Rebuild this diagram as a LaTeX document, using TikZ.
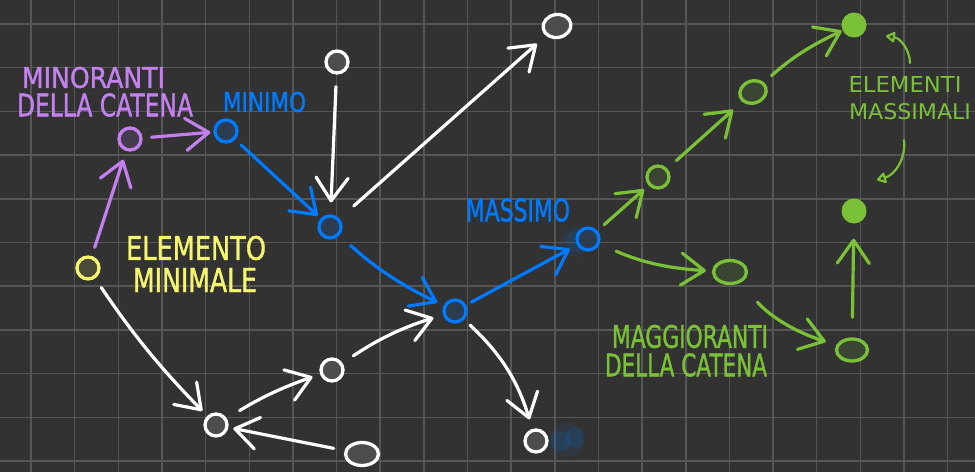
\documentclass[tikz,border=0pt]{standalone}
\usepackage{fontspec}
\setmainfont{DejaVu Sans}
\newfontfamily\hand[FakeBold=1.4]{DejaVu Sans}
\usetikzlibrary{arrows.meta,shapes.geometric}
\definecolor{bg}{RGB}{50,50,50}
\definecolor{gridc}{RGB}{86,86,86}
\definecolor{purp}{RGB}{197,128,240}
\definecolor{bluec}{RGB}{0,122,255}
\definecolor{yel}{RGB}{245,245,110}
\definecolor{grn}{RGB}{122,193,56}
\newcommand{\fitt}[3]{\resizebox{#1pt}{#2pt}{#3}}
\begin{document}
\begin{tikzpicture}[x=1pt,y=-1pt,
  dot/.style={circle,draw=#1,fill=#1!13!bg,line width=3.3pt,minimum size=22pt,inner sep=0pt},
  ell/.style={ellipse,draw=#1,fill=#1!13!bg,line width=3.3pt,inner sep=0pt},
  fdot/.style={circle,fill=#1,minimum size=25pt,inner sep=0pt},
  lbl/.style={inner sep=0pt,text=#1},
  arr/.style={draw=#1,line width=3.2pt,line cap=round,-{Straight Barb[length=23pt,width=32pt,round]}},
  larr/.style={draw=#1,line width=2.2pt,line cap=round,-{Triangle[open,length=10pt,width=12pt,round]}}]
\useasboundingbox (0,0) rectangle (975,472);
\fill[bg] (0,0) rectangle (975,472);
\foreach \i in {0,...,21} \draw[gridc,line width=1.5pt] ({31+43.65*\i},0) -- ({31+43.65*\i},472);
\foreach \j in {0,...,10} \draw[gridc,line width=1.5pt] (0,{24+43.7*\j}) -- (975,{24+43.7*\j});
% smudges
\fill[bluec,opacity=0.08] (575,242) circle (15pt);
\fill[bluec,opacity=0.12] (577,241) circle (11pt);
\fill[bluec,opacity=0.08] (567,440) circle (17pt);
\fill[bluec,opacity=0.12] (561,441) circle (10pt);
\fill[bluec,opacity=0.12] (575,438) circle (10pt);
% nodes
\node[dot=purp] (pur) at (130,139) {};
\node[dot=bluec] (mini) at (226,131) {};
\node[dot=bluec] (bm) at (330,227) {};
\node[dot=bluec] (bc) at (455,311) {};
\node[dot=bluec] (mass) at (588,239) {};
\node[dot=white] (wt) at (337,62) {};
\node[ell=white,minimum width=28pt,minimum height=23pt,rotate=10] (wtr) at (557,26) {};
\node[dot=yel] (yl) at (88,268) {};
\node[dot=white] (wbl) at (216,425) {};
\node[dot=white] (wm) at (332,370) {};
\node[ell=white,minimum width=33pt,minimum height=23pt] (wbe) at (362,454) {};
\node[dot=white] (wbr) at (536,441) {};
\node[dot=grn] (g1) at (658,177) {};
\node[ell=grn,minimum width=27pt,minimum height=22pt,rotate=20] (g2) at (753,92) {};
\node[fdot=grn] (gt) at (854,25) {};
\node[fdot=grn] (gb) at (854,211) {};
\node[ell=grn,minimum width=33pt,minimum height=23pt] (g3) at (730,272) {};
\node[ell=grn,minimum width=31pt,minimum height=22pt] (g4) at (852,350) {};
% labels
\node[lbl=purp] (lmin1) at (93.5,77.5) {\fitt{143}{21}{\hand MINORANTI}};
\node[lbl=purp] (lmin2) at (105,105) {\fitt{176}{23}{\hand DELLA CATENA}};
\node[lbl=bluec] (lminimo) at (264.5,102) {\fitt{83}{20}{\hand MINIMO}};
\node[lbl=yel] (lel1) at (196,248) {\fitt{140}{24}{\hand ELEMENTO}};
\node[lbl=yel] (lel2) at (195,280) {\fitt{124}{24}{\hand MINIMALE}};
\node[lbl=bluec] (lmass) at (518,210) {\fitt{104}{23}{\hand MASSIMO}};
\node[lbl=grn] (lem1) at (905,84) {\fitt{113}{16}{ELEMENTI}};
\node[lbl=grn] (lem2) at (910,112) {\fitt{122}{16}{MASSIMALI}};
\node[lbl=grn] (lmag1) at (690,336.5) {\fitt{156}{23}{\hand MAGGIORANTI}};
\node[lbl=grn] (lmag2) at (686,365) {\fitt{162}{23}{\hand DELLA CATENA}};
% arrows
\draw[arr=purp,shorten <=9pt,shorten >=9pt] (yl) -- (pur);
\draw[arr=purp,shorten <=9pt,shorten >=3pt] (pur) -- (mini);
\draw[arr=bluec,shorten <=8pt,shorten >=4pt] (mini) -- (bm);
\draw[arr=white,shorten <=12pt,shorten >=12pt] (wt) -- (bm);
\draw[arr=white,shorten <=19pt,shorten >=12pt] (bm) -- (wtr);
\draw[arr=bluec,shorten <=15pt,shorten >=7pt] (bm) to[bend right=8] (bc);
\draw[arr=bluec,shorten <=6pt,shorten >=8pt] (bc) -- (mass);
\draw[arr=white,shorten <=8pt,shorten >=10pt] (bc) to[bend left=15] (wbr);
\draw[arr=white,shorten <=13pt,shorten >=10pt] (wm) to[bend left=8] (bc);
\draw[arr=white,shorten <=11pt,shorten >=7pt] (yl) to[bend right=5] (wbl);
\draw[arr=white,shorten <=15pt,shorten >=8pt] (wbl) to[bend left=6] (wm);
\draw[arr=white,shorten <=11pt,shorten >=5pt] (wbe) -- (wbl);
\draw[arr=grn,shorten <=9pt,shorten >=6pt] (mass) -- (g1);
\draw[arr=grn,shorten <=12pt,shorten >=12pt] (g1) -- (g2);
\draw[arr=grn,shorten <=10pt,shorten >=1pt] (g2) to[bend left=8] (gt);
\draw[arr=grn,shorten <=18pt,shorten >=6pt] (mass) to[bend right=10] (g3);
\draw[arr=grn,shorten <=26pt,shorten >=11pt] (g3) to[bend right=15] (g4);
\draw[arr=grn,shorten <=20pt,shorten >=15pt] (g4) -- (gb);
\coordinate (la1) at (910,63);
\coordinate (la2) at (886,36);
\coordinate (lb1) at (904,140);
\coordinate (lb2) at (877,180);
\draw[larr=grn] (la1) to[bend right=40] (la2);
\draw[larr=grn] (lb1) to[bend left=40] (lb2);
\end{tikzpicture}
\end{document}
